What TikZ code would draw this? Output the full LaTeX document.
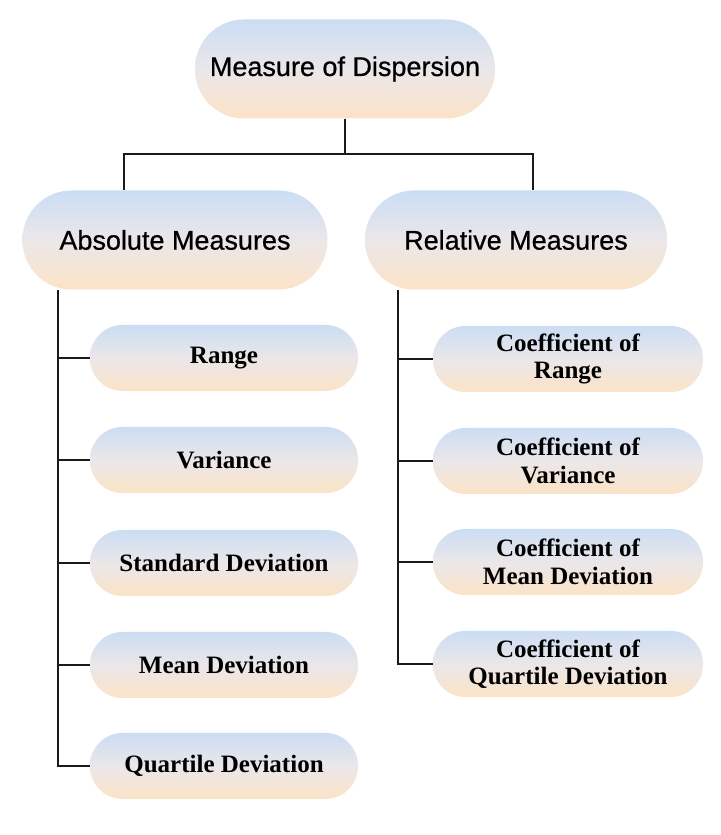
\documentclass[tikz,border=0pt]{standalone}
\usepackage{fontspec}
\setmainfont{Liberation Serif}
\newfontfamily\hsans[FakeBold=0.7]{Liberation Sans}
\definecolor{topc}{HTML}{CBDDF4}
\definecolor{midc}{HTML}{EBE7E9}
\definecolor{botc}{HTML}{FCE3C7}
\definecolor{linec}{HTML}{1A1A1A}
\tikzset{
  pill/.style={shape=rectangle, inner sep=0pt, align=center,
    top color=topc, bottom color=botc, middle color=midc},
  bigpill/.style={pill, rounded corners=49pt, minimum height=99pt,
    font=\hsans\fontsize{27}{30}\selectfont},
  smallpill/.style={pill, rounded corners=32.5pt, minimum height=66pt,
    font=\bfseries\fontsize{25}{27.5}\selectfont},
  lpill/.style={smallpill, minimum width=268pt},
  rpill/.style={smallpill, minimum width=270pt},
  conn/.style={draw=linec, line width=2.6pt},
}
\begin{document}
\begin{tikzpicture}[x=1pt,y=1pt]
\useasboundingbox[fill=white] (0,0) rectangle (720,835);
% main nodes
\node[bigpill, minimum width=300pt] (top) at (345,766) {Measure of Dispersion};
\node[bigpill, minimum width=305pt] (abs) at (175,595) {Absolute Measures};
\node[bigpill, minimum width=302pt] (rel) at (516,595) {Relative Measures};
% left children
\node[lpill] (range) at (224,477) {Range};
\node[lpill] (var) at (224,375) {Variance};
\node[lpill] (sd) at (224,272) {Standard Deviation};
\node[lpill] (md) at (224,170) {Mean Deviation};
\node[lpill] (qd) at (224,69) {Quartile Deviation};
% right children
\node[rpill] (crange) at (568,476) {Coefficient of\\Range};
\node[rpill] (cvar) at (568,374) {Coefficient of\\Variance};
\node[rpill] (cmd) at (568,273) {Coefficient of\\Mean Deviation};
\node[rpill] (cqd) at (568,171) {Coefficient of\\Quartile Deviation};
% coordinates
\coordinate (busL) at (124,681);
\coordinate (busR) at (533,681);
\coordinate (trunkL) at (58,545);
\coordinate (trunkR) at (398,545);
% connectors
\draw[conn] (top.south) -- (top.south |- busL);
\draw[conn] (busL |- abs.north) -- (busL) -- (busR) -- (busR |- rel.north);
\draw[conn] (trunkL) |- (qd.west);
\foreach \n in {range,var,sd,md} \draw[conn] (trunkL |- \n.west) -- (\n.west);
\draw[conn] (trunkR) |- (cqd.west);
\foreach \n in {crange,cvar,cmd} \draw[conn] (trunkR |- \n.west) -- (\n.west);
\end{tikzpicture}
\end{document}
